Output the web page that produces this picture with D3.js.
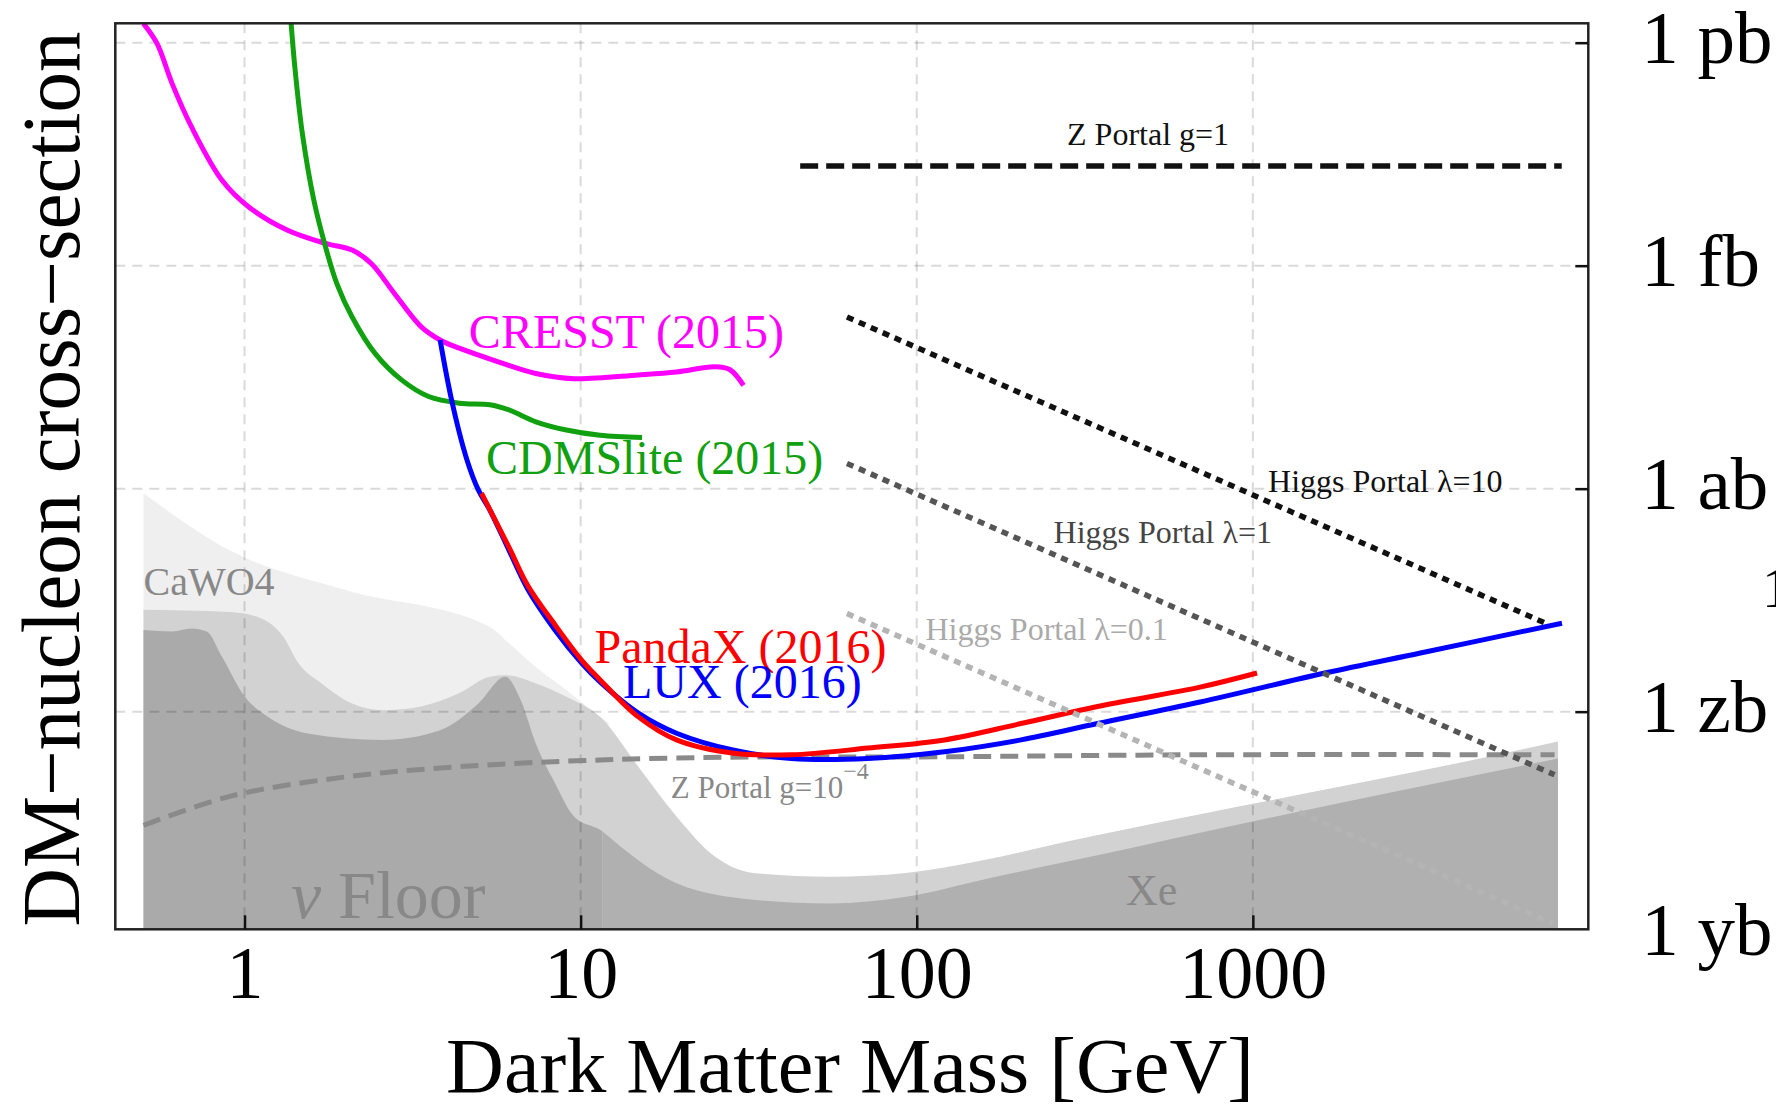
<!DOCTYPE html>
<html>
<head>
<meta charset="utf-8">
<script src="https://cdn.jsdelivr.net/npm/d3@7"></script>
<style>
  body { margin: 0; background: #fff; }
  svg text { font-family: "Liberation Serif", "Times New Roman", serif; }
</style>
</head>
<body>
<div id="viz"></div>
<script>
// frame
const F_WIDTH = 1776;
const F_HEIGHT = 1113;
const PLOT = {left: 115.3, right: 1588.3, top: 23.3, bottom: 929.3};

// axis ticks (mass in GeV, cross-section as log10 of cm^2)
const X_TICKS = [1, 10, 100, 1000];
const Y_TICKS = [-36, -39, -42, -45, -48];
const Y_TICK_LABELS = ["1 pb", "1 fb", "1 ab", "1 zb", "1 yb"];

// experimental limits
const CRESST_M = [0.50, 0.549, 0.609, 0.695, 0.857, 1.03, 1.338, 1.74, 2.09, 2.382, 2.789, 3.35, 3.819, 4.354, 5.658, 7.357, 9.558, 14.85, 19.29, 25.08, 27.83, 30.52];
const CRESST_S = [-35.74, -36.01, -36.55, -37.13, -37.85, -38.21, -38.52, -38.70, -38.79, -38.97, -39.37, -39.82, -40.00, -40.11, -40.29, -40.45, -40.52, -40.47, -40.43, -40.36, -40.40, -40.61];

const CDMS_M = [1.374, 1.411, 1.486, 1.608, 1.74, 1.882, 2.09, 2.445, 2.938, 3.53, 4.354, 5.372, 6.12, 7.357, 9.07, 11.42, 15.23];
const CDMS_S = [-35.70, -36.32, -37.22, -38.12, -38.74, -39.24, -39.69, -40.18, -40.54, -40.76, -40.85, -40.87, -40.94, -41.10, -41.21, -41.28, -41.31];

const LUX_M = [3.819, 4.133, 4.588, 4.965, 5.372, 6.123, 6.975, 8.385, 10.08, 11.42, 14.85, 19.29, 28.6, 42.36, 71.6, 120.9, 204.3, 345, 696.6, 1639, 3153, 8312];
const LUX_S = [-40.00, -40.81, -41.61, -42.02, -42.29, -42.83, -43.36, -43.90, -44.35, -44.60, -45.02, -45.29, -45.52, -45.63, -45.63, -45.54, -45.38, -45.16, -44.87, -44.48, -44.21, -43.81];

const PANDAX_M = [5.069, 6.123, 6.975, 8.385, 10.08, 11.42, 14.85, 19.29, 28.6, 42.36, 71.6, 120.9, 204.3, 345, 696.6, 1029];
const PANDAX_S = [-42.06, -42.79, -43.31, -43.83, -44.31, -44.57, -45.07, -45.38, -45.56, -45.58, -45.49, -45.38, -45.16, -44.93, -44.67, -44.48];

// model lines
const ZG1_M = [45, 8300];
const ZG1_S = [-37.66, -37.66];
const ZG4_M = [0.5006, 0.903, 1.983, 4.354, 11.42, 32.6, 92.9, 696.6, 7903];
const ZG4_S = [-46.53, -46.14, -45.88, -45.74, -45.65, -45.61, -45.61, -45.58, -45.58];
const H10_M = [62, 7600];
const H10_S = [-39.69, -43.83];
const H1_M = [62, 7900];
const H1_S = [-41.66, -45.85];
const H01_M = [62, 7800];
const H01_S = [-43.68, -47.85];

// neutrino floor bands (CaWO4 up to ~12 GeV, Xe beyond)
const LIGHT_M = [0.5006, 0.903, 1.983, 5.372, 6.123, 7.357, 9.07, 11.42, 12.1];
const LIGHT_S = [-42.06, -42.83, -43.36, -43.86, -44.08, -44.40, -44.71, -45.07, -45.15];
const MID_M = [0.5006, 0.903, 1.114, 1.303, 1.447, 1.695, 2.09, 2.577, 3.35, 4.354, 5.372, 5.967, 7.357, 9.07, 11.42, 14.85, 19.29, 25.08, 32.6, 55.1, 92.9, 157.2, 265.1, 696.6, 1906, 5222, 8090];
const MID_S = [-43.63, -43.66, -43.74, -43.99, -44.35, -44.62, -44.89, -44.98, -44.93, -44.75, -44.53, -44.51, -44.62, -44.80, -45.07, -45.74, -46.41, -46.95, -47.17, -47.22, -47.17, -47.00, -46.77, -46.38, -45.99, -45.59, -45.40];
const DARK_M = [0.5006, 0.6094, 0.6946, 0.772, 0.857, 1.003, 1.174, 1.526, 2.577, 3.819, 4.965, 5.967, 6.625, 7.357, 8.385, 9.558, 11.42, 11.6];
const DARK_S = [-43.90, -43.92, -43.88, -43.92, -44.26, -44.80, -45.07, -45.29, -45.38, -45.25, -44.89, -44.53, -44.84, -45.43, -45.96, -46.41, -46.59, -46.61];
const XE_M = [11.6, 19.29, 32.6, 55.1, 92.9, 157.2, 265.1, 448.7, 696.6, 8090];
const XE_S = [-46.61, -47.31, -47.53, -47.58, -47.49, -47.26, -47.04, -46.82, -46.63, -45.63];

const zip = (m, s) => m.map((d, i) => [d, s[i]]);

const FRAME = d3.select("#viz")
  .append("svg")
    .attr("width", F_WIDTH)
    .attr("height", F_HEIGHT);

const X_SCALE = d3.scaleLog()
  .domain([0.4126, 9955])
  .range([PLOT.left, PLOT.right]);

const Y_SCALE = d3.scaleLinear()
  .domain([-47.928, -35.739])
  .range([PLOT.bottom, PLOT.top]);

FRAME.append("clipPath").attr("id", "clip")
  .append("rect")
    .attr("x", PLOT.left).attr("y", PLOT.top)
    .attr("width", PLOT.right - PLOT.left)
    .attr("height", PLOT.bottom - PLOT.top);

const VIS = FRAME.append("g").attr("clip-path", "url(#clip)");

// neutrino floor
const floorArea = d3.area()
  .x(d => X_SCALE(d[0]))
  .y0(PLOT.bottom)
  .y1(d => Y_SCALE(d[1]))
  .curve(d3.curveMonotoneX);

[[LIGHT_M, LIGHT_S, "#efefef"], [MID_M, MID_S, "#d2d2d2"],
 [DARK_M, DARK_S, "#aaaaaa"], [XE_M, XE_S, "#b0b0b0"]]
  .forEach(([m, s, c]) => {
    VIS.append("path").datum(zip(m, s)).attr("d", floorArea).attr("fill", c);
  });

// grid
VIS.selectAll(".gx").data(X_TICKS).enter().append("line")
  .attr("x1", d => X_SCALE(d)).attr("x2", d => X_SCALE(d))
  .attr("y1", PLOT.top).attr("y2", PLOT.bottom)
  .attr("stroke", "rgba(0,0,0,0.15)").attr("stroke-width", 2)
  .attr("stroke-dasharray", "10,7");

VIS.selectAll(".gy").data(Y_TICKS.slice(0, 4)).enter().append("line")
  .attr("y1", d => Y_SCALE(d)).attr("y2", d => Y_SCALE(d))
  .attr("x1", PLOT.left).attr("x2", PLOT.right)
  .attr("stroke", "rgba(0,0,0,0.15)").attr("stroke-width", 2)
  .attr("stroke-dasharray", "10,7");

const line = d3.line()
  .x(d => X_SCALE(d[0]))
  .y(d => Y_SCALE(d[1]));

const smooth = d3.line()
  .x(d => X_SCALE(d[0]))
  .y(d => Y_SCALE(d[1]))
  .curve(d3.curveCatmullRom.alpha(0.5));

// Z portal g=1e-4 on the floor
VIS.append("path").datum(zip(ZG4_M, ZG4_S)).attr("d", smooth)
  .attr("fill", "none").attr("stroke", "#8a8a8a").attr("stroke-width", 5)
  .attr("stroke-dasharray", "18,9");

// experiments
[[CRESST_M, CRESST_S, "#ff00ff"], [CDMS_M, CDMS_S, "#10a010"],
 [LUX_M, LUX_S, "#0000ff"], [PANDAX_M, PANDAX_S, "#ff0000"]]
  .forEach(([m, s, c]) => {
    VIS.append("path").datum(zip(m, s)).attr("d", smooth)
      .attr("fill", "none").attr("stroke", c).attr("stroke-width", 5)
      .attr("stroke-linejoin", "round");
  });

// portals
VIS.append("path").datum(zip(ZG1_M, ZG1_S)).attr("d", line)
  .attr("fill", "none").attr("stroke", "#111").attr("stroke-width", 5.5)
  .attr("stroke-dasharray", "18,8");

[[H10_M, H10_S, "#111"], [H1_M, H1_S, "#555"], [H01_M, H01_S, "#b4b4b4"]]
  .forEach(([m, s, c]) => {
    VIS.append("path").datum(zip(m, s)).attr("d", line)
      .attr("fill", "none").attr("stroke", c).attr("stroke-width", 5.5)
      .attr("stroke-dasharray", "7,6");
  });

// labels placed at data coordinates
function label(txt, m, s, size, color) {
  return FRAME.append("text")
    .attr("x", X_SCALE(m)).attr("y", Y_SCALE(s))
    .attr("font-size", size).attr("fill", color)
    .text(txt);
}

label("CRESST (2015)", 4.65, -40.11, 48, "#ff00ff");
label("CDMSlite (2015)", 5.23, -41.80, 48, "#10a010");
label("PandaX (2016)", 11.0, -44.35, 48, "#ff0000");
label("LUX (2016)", 13.37, -44.82, 48, "#0000ff");
label("CaWO4", 0.5006, -43.43, 40, "#888");
label("Xe", 419.5, -47.60, 44, "#888");
label("Z Portal g=1", 280, -37.376, 32, "#111");
label("Higgs Portal λ=10", 1110, -42.04, 32, "#111");
label("Higgs Portal λ=1", 255.3, -42.735, 32, "#444");
label("Higgs Portal λ=0.1", 106.1, -44.036, 32, "#aaa");

const zl = label("Z Portal g=10", 18.55, -46.166, 31, "#888");
zl.append("tspan").attr("dy", -19).attr("font-size", 24).text("−4");

const nu = label("", 1.374, -47.78, 68, "#888");
nu.append("tspan").attr("font-style", "italic").text("ν");
nu.append("tspan").text(" Floor");

// frame
FRAME.append("rect")
  .attr("x", PLOT.left).attr("y", PLOT.top)
  .attr("width", PLOT.right - PLOT.left)
  .attr("height", PLOT.bottom - PLOT.top)
  .attr("fill", "none").attr("stroke", "#222").attr("stroke-width", 2.5);

// bottom axis
const xAxis = FRAME.append("g")
  .attr("transform", "translate(0," + PLOT.bottom + ")")
  .call(d3.axisBottom(X_SCALE).tickValues(X_TICKS).tickSize(-14).tickPadding(16)
    .tickFormat(d3.format("d")));
xAxis.select(".domain").remove();
xAxis.selectAll("line").attr("stroke", "#111").attr("stroke-width", 2.5);
xAxis.selectAll("text").attr("font-size", 74).attr("fill", "#000")
  .attr("font-family", "Liberation Serif");

// right axis
const yAxis = FRAME.append("g")
  .attr("transform", "translate(" + PLOT.right + ",0)")
  .call(d3.axisRight(Y_SCALE).tickValues(Y_TICKS).tickSize(-13).tickPadding(53)
    .tickFormat((d, i) => Y_TICK_LABELS[i]));
yAxis.select(".domain").remove();
yAxis.selectAll("line").attr("stroke", "#111").attr("stroke-width", 2.5)
  .attr("display", d => d < -47.9 ? "none" : null);
yAxis.selectAll("text").attr("font-size", 75).attr("fill", "#000")
  .attr("dy", "0.27em").attr("font-family", "Liberation Serif");

// cut-off glyph at the right edge
FRAME.append("text").attr("x", 1762).attr("y", 607)
  .attr("font-size", 58).attr("fill", "#000").text("1");

// axis titles
FRAME.append("text")
  .attr("x", 850).attr("y", 1092)
  .attr("text-anchor", "middle")
  .attr("font-size", 78)
  .attr("textLength", 808).attr("lengthAdjust", "spacingAndGlyphs")
  .text("Dark Matter Mass [GeV]");

FRAME.append("text")
  .attr("transform", "translate(78.5,479) rotate(-90)")
  .attr("text-anchor", "middle")
  .attr("font-size", 82)
  .attr("textLength", 895).attr("lengthAdjust", "spacingAndGlyphs")
  .text("DM−nucleon cross−section");
</script>
</body>
</html>
